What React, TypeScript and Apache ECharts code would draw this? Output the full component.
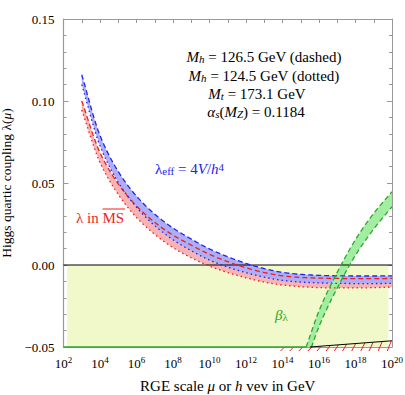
import React, { useEffect, useRef } from 'react';
import * as echarts from 'echarts';

// x values are log10(mu / GeV)
const logMu = [3, 4, 5, 6, 7, 8, 9, 10, 11, 12, 13, 14, 15, 16, 17, 18, 19, 20];
const lambdaEffDashed = [0.116, 0.079, 0.057, 0.042, 0.031, 0.0225, 0.0158, 0.0098, 0.0050, 0.0010, -0.0022, -0.0045, -0.0057, -0.0063, -0.0066, -0.0067, -0.0067, -0.0066];
const lambdaEffDotted = [0.110, 0.0727, 0.0504, 0.0352, 0.024, 0.0154, 0.0087, 0.0030, -0.0013, -0.0047, -0.0074, -0.0094, -0.0104, -0.0109, -0.0112, -0.0113, -0.0113, -0.0112];
const lambdaMSDashed = [0.100, 0.0685, 0.0495, 0.036, 0.026, 0.0182, 0.0121, 0.0065, 0.0020, -0.0017, -0.0046, -0.0066, -0.0076, -0.0080, -0.0082, -0.0083, -0.0083, -0.0082];
const lambdaMSDotted = [0.0945, 0.0625, 0.043, 0.029, 0.0187, 0.0106, 0.0044, -0.0007, -0.0046, -0.0078, -0.0104, -0.0122, -0.0132, -0.0138, -0.0140, -0.0140, -0.0138, -0.0135];

const betaLogMu = [15.3, 16, 17, 18, 19, 20];
const betaUpper = [-0.05, -0.028, -0.0045, 0.0155, 0.0315, 0.0447];
const betaLower = [-0.0595, -0.0375, -0.014, 0.006, 0.022, 0.0355];

const allowedLogMu = [2.2, 19.8];
const allowedTop = [0, 0];
const floorLogMu = [2, 15.3];
const floorLambda = [-0.05, -0.05];
const boundLogMu = [15.5, 20];
const boundLambda = [-0.05, -0.0462];
const zeroLogMu = [2, 20];
const zeroLambda = [0, 0];
const hatchLogMu = [14.0, 14.5, 15.0, 15.5, 16.0, 16.5, 16.95, 17.4, 17.9, 18.4, 18.85, 19.35, 19.85];

const xMin = 2, xMax = 20, xStep = 1;
const yMin = -0.05, yMax = 0.15, yStep = 0.05;

const FONT = '"Liberation Serif", "DejaVu Serif", serif';
const BLUE = 'rgb(35,35,235)';
const RED = 'rgb(238,30,30)';
const GREEN = 'rgb(40,170,40)';
const DASH = [5, 3];
const DOT = [1.5, 3];

// monotone cubic (Fritsch-Carlson) used only to draw a smooth curve through the read points
function monotone(xs: number[], ys: number[]) {
  const n = xs.length;
  const h: number[] = [], d: number[] = [], m: number[] = [];
  for (let i = 0; i < n - 1; i++) { h[i] = xs[i + 1] - xs[i]; d[i] = (ys[i + 1] - ys[i]) / h[i]; }
  m[0] = d[0]; m[n - 1] = d[n - 2];
  for (let i = 1; i < n - 1; i++) {
    if (d[i - 1] * d[i] <= 0) m[i] = 0;
    else {
      const w1 = 2 * h[i] + h[i - 1], w2 = h[i] + 2 * h[i - 1];
      m[i] = (w1 + w2) / (w1 / d[i - 1] + w2 / d[i]);
    }
  }
  return (x: number) => {
    let k = 0;
    while (k < n - 2 && x > xs[k + 1]) k++;
    const t = (x - xs[k]) / h[k];
    const t2 = t * t, t3 = t2 * t;
    return (2 * t3 - 3 * t2 + 1) * ys[k] + (t3 - 2 * t2 + t) * h[k] * m[k] + (-2 * t3 + 3 * t2) * ys[k + 1] + (t3 - t2) * h[k] * m[k + 1];
  };
}
function sampleCurve(xs: number[], ys: number[]) {
  const f = monotone(xs, ys);
  const out: number[][] = [];
  const last = xs[xs.length - 1];
  for (let x = xs[0]; x < last - 1e-9; x += 0.04) out.push([x, f(x)]);
  out.push([last, ys[ys.length - 1]]);
  return out;
}
const clipRect = (params: any) => ({ type: 'rect', shape: { x: params.coordSys.x, y: params.coordSys.y, width: params.coordSys.width, height: params.coordSys.height } });

function bandSeries(xs: number[], lower: number[], upper: number[], color: string, z: number) {
  return {
    type: 'custom', data: [[xs[0], upper[0]]], encode: { x: 0, y: 1 }, z, silent: true,
    renderItem: (params: any, api: any) => {
      const up = sampleCurve(xs, upper).map((p) => api.coord(p));
      const lo = sampleCurve(xs, lower).map((p) => api.coord(p)).reverse();
      return { type: 'polygon', shape: { points: up.concat(lo) }, style: { fill: color, stroke: 'none' }, clipPath: clipRect(params) };
    },
  };
}
function curveSeries(xs: number[], ys: number[], color: string, dash: number[], z: number) {
  return {
    type: 'custom', data: [[xs[0], ys[0]]], encode: { x: 0, y: 1 }, z, silent: true,
    renderItem: (params: any, api: any) => ({
      type: 'polyline',
      shape: { points: sampleCurve(xs, ys).map((p) => api.coord(p)) },
      style: { stroke: color, lineWidth: 1.3, lineDash: dash, fill: 'none' },
      clipPath: clipRect(params),
    }),
  };
}
const pts = (xs: number[], ys: number[]) => xs.map((x, i) => [x, ys[i]]);

export default function App() {
  const ref = useRef<HTMLDivElement>(null);
  useEffect(() => {
    if (!ref.current) return;
    const chart = echarts.init(ref.current, null, { renderer: 'svg' });
    const labelRich = {
      b: { fontSize: 13, fontFamily: FONT, color: '#000', lineHeight: 16 },
      sup: { fontSize: 9, fontFamily: FONT, color: '#000', verticalAlign: 'top', lineHeight: 10 },
    };
    const textRich = (color: string, size = 15) => ({
      n: { fontSize: size, fontFamily: FONT, color },
      i: { fontSize: size, fontFamily: FONT, fontStyle: 'italic', color },
      sub: { fontSize: size - 4, fontFamily: FONT, fontStyle: 'italic', color, verticalAlign: 'bottom', lineHeight: 10, padding: [6, 0, 0, 0] },
      subn: { fontSize: size - 4, fontFamily: FONT, color, verticalAlign: 'bottom', lineHeight: 10, padding: [6, 0, 0, 0] },
      sup: { fontSize: size - 4, fontFamily: FONT, color, verticalAlign: 'top', lineHeight: 10, padding: [0, 0, 6, 0] },
    });
    const txt = (text: string, x: number, y: number, color: string, align = 'center') => ({
      type: 'text', x, y, z: 100,
      style: { text, rich: textRich(color), fill: color, font: '15px ' + FONT, textAlign: align, textVerticalAlign: 'middle', align, verticalAlign: 'middle' },
    });
    const yLabel = (v: number) => v.toFixed(2).replace('-', '\u2212');
    const option: any = {
      animation: false,
      grid: { left: 63.5, right: 13, top: 19, bottom: 48, containLabel: false, outerBoundsMode: 'none' },
      xAxis: [
        {
          type: 'value', min: xMin, max: xMax, interval: xStep, position: 'bottom',
          axisLine: { show: true, onZero: false, lineStyle: { color: '#999', width: 1 } },
          axisTick: { show: true, inside: true, length: 4, lineStyle: { color: '#999' } },
          splitLine: { show: false },
          axisLabel: {
            margin: 8,
            formatter: (v: number) => (v % 2 === 0 ? `{b|10}{sup|${v}}` : ''),
            rich: labelRich,
          },
          name: '{n|RGE scale }{i|μ}{n| or }{i|h}{n| vev in GeV}',
          nameLocation: 'middle', nameGap: 31,
          nameTextStyle: { rich: textRich('#000', 15) },
        },
        {
          type: 'value', min: xMin, max: xMax, interval: xStep, position: 'top',
          axisLine: { show: true, onZero: false, lineStyle: { color: '#999', width: 1 } },
          axisTick: { show: true, inside: true, length: 4, lineStyle: { color: '#999' } },
          splitLine: { show: false }, axisLabel: { show: false },
        },
      ],
      yAxis: [
        {
          type: 'value', min: yMin, max: yMax, interval: yStep, position: 'left',
          axisLine: { show: true, onZero: false, lineStyle: { color: '#999', width: 1.2 } },
          axisTick: { show: true, inside: true, length: 5, lineStyle: { color: '#999' } },
          minorTick: { show: true, splitNumber: 5, length: 3, lineStyle: { color: '#999' } },
          splitLine: { show: false },
          axisLabel: { formatter: yLabel, fontSize: 13, fontFamily: FONT, color: '#000', margin: 9 },
          name: '{n|Higgs quartic coupling λ(}{i|μ}{n|)}',
          nameLocation: 'middle', nameGap: 49, nameRotate: 90,
          nameTextStyle: { rich: textRich('#000', 13.5) },
        },
        {
          type: 'value', min: yMin, max: yMax, interval: yStep, position: 'right',
          axisLine: { show: true, onZero: false, lineStyle: { color: '#999', width: 1 } },
          axisTick: { show: true, inside: true, length: 5, lineStyle: { color: '#999' } },
          minorTick: { show: true, splitNumber: 5, length: 3, lineStyle: { color: '#999' } },
          splitLine: { show: false }, axisLabel: { show: false },
        },
      ],
      series: [
        {
          type: 'line', data: pts(allowedLogMu, allowedTop), symbol: 'none', lineStyle: { opacity: 0 },
          areaStyle: { color: '#f1f8c9', opacity: 1, origin: 'start' }, z: 1, silent: true,
        },
        bandSeries(logMu, lambdaMSDotted, lambdaMSDashed, '#f9b3b3', 2),
        bandSeries(logMu, lambdaEffDotted, lambdaEffDashed, '#adaef7', 2),
        bandSeries(betaLogMu, betaLower, betaUpper, '#a3eda3', 3),
        { type: 'line', data: pts(zeroLogMu, zeroLambda), symbol: 'none', lineStyle: { color: '#000', width: 1 }, z: 4, silent: true },
        curveSeries(logMu, lambdaMSDashed, RED, DASH, 5),
        curveSeries(logMu, lambdaMSDotted, RED, DOT, 5),
        curveSeries(logMu, lambdaEffDashed, BLUE, DASH, 5),
        curveSeries(logMu, lambdaEffDotted, BLUE, DOT, 5),
        curveSeries(betaLogMu, betaUpper, GREEN, DASH, 5),
        curveSeries(betaLogMu, betaLower, GREEN, DASH, 5),
        { type: 'line', data: pts(floorLogMu, floorLambda), symbol: 'none', clip: false, lineStyle: { color: GREEN, width: 1.5 }, z: 6, silent: true },
        { type: 'line', data: pts(boundLogMu, boundLambda), symbol: 'none', clip: false, lineStyle: { color: '#000', width: 1 }, z: 6, silent: true },
        {
          type: 'custom', data: hatchLogMu.map((x) => [x, yMin]), encode: { x: 0, y: 1 }, z: 6, silent: true,
          renderItem: (_p: any, api: any) => {
            const x = api.value(0);
            const base = api.coord([x, yMin]);
            let topVal = yMin;
            if (x >= boundLogMu[0]) {
              topVal = boundLambda[0] + ((x - boundLogMu[0]) / (boundLogMu[1] - boundLogMu[0])) * (boundLambda[1] - boundLambda[0]);
            }
            const top = api.coord([x, topVal]);
            return {
              type: 'line',
              shape: { x1: base[0] - 2, y1: base[1] + 4, x2: top[0] + 2, y2: top[1] },
              style: { stroke: RED, lineWidth: 1 },
            };
          },
        },
      ],
      graphic: [
        txt('{i|M}{sub|h}{n| = 126.5 GeV (dashed)}', 264, 57, '#000'),
        txt('{i|M}{sub|h}{n| = 124.5 GeV (dotted)}', 264, 76, '#000'),
        txt('{i|M}{sub|t}{n| = 173.1 GeV}', 257, 94, '#000'),
        txt('{i|α}{sub|s}{n|(}{i|M}{sub|Z}{n|) = 0.1184}', 256, 112, '#000'),
        txt('{n|λ}{subn|eff}{n| = 4}{i|V}{n|/}{i|h}{sup|4}', 155, 169, BLUE, 'left'),
        txt('{n|λ in MS}', 76, 218, RED, 'left'),
        { type: 'line', z: 100, shape: { x1: 102.5, y1: 209, x2: 125, y2: 209 }, style: { stroke: RED, lineWidth: 1 } },
        txt('{i|β}{subn|λ}', 275, 315, GREEN, 'left'),
      ],
    };
    chart.setOption(option);
    return () => chart.dispose();
  }, []);
  return <div ref={ref} style={{ position: 'fixed', left: 0, top: 0, width: 405, height: 395, background: '#fff' }} />;
}
